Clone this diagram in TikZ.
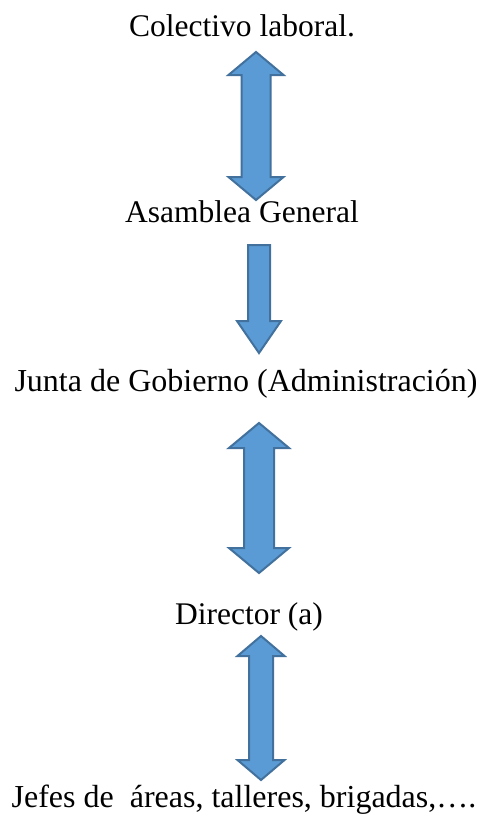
\documentclass[tikz,border=0pt]{standalone}
\usepackage{fontspec}
\setmainfont{Liberation Serif}
\definecolor{arrfill}{HTML}{5B9BD5}
\definecolor{arrline}{HTML}{41719C}
\tikzset{
  lbl/.style={anchor=base, inner sep=0pt, font=\fontsize{31.5}{38}\selectfont},
  blockarrow/.style={fill=arrfill, draw=arrline, line width=2pt, line join=miter}
}
% double block arrow: center x, top tip y, bottom tip y, half shaft, half head, head length
\newcommand{\dblarrow}[6]{%
  \draw[blockarrow] (#1,#2) -- (#1+#5,#2+#6) -- (#1+#4,#2+#6) -- (#1+#4,#3-#6)
    -- (#1+#5,#3-#6) -- (#1,#3) -- (#1-#5,#3-#6) -- (#1-#4,#3-#6)
    -- (#1-#4,#2+#6) -- (#1-#5,#2+#6) -- cycle;}
% single down block arrow: center x, top y, tip y, half shaft, half head, head length
\newcommand{\downarrowblk}[6]{%
  \draw[blockarrow] (#1-#4,#2) -- (#1+#4,#2) -- (#1+#4,#3-#6) -- (#1+#5,#3-#6)
    -- (#1,#3) -- (#1-#5,#3-#6) -- (#1-#4,#3-#6) -- cycle;}
\begin{document}
\begin{tikzpicture}[x=1pt,y=-1pt]
\useasboundingbox[fill=white] (0,0) rectangle (480,816);
\node[lbl] (colectivo) at (242,37) {Colectivo laboral.};
\node[lbl] (asamblea) at (242,222) {Asamblea General};
\node[lbl, font=\fontsize{32}{38}\selectfont] (junta) at (246,391) {Junta de Gobierno (Administración)};
\node[lbl] (director) at (249,624) {Director (a)};
\node[lbl, font=\fontsize{32}{38}\selectfont] (jefes) at (244,807) {Jefes de\ \ áreas, talleres, brigadas,….};
\dblarrow{256}{52}{200}{14.5}{27.5}{23}
\downarrowblk{259}{245}{353}{11}{22}{32}
\dblarrow{259}{423}{573}{15}{30}{25}
\dblarrow{261}{636}{780}{12}{23.5}{20}
\end{tikzpicture}
\end{document}
